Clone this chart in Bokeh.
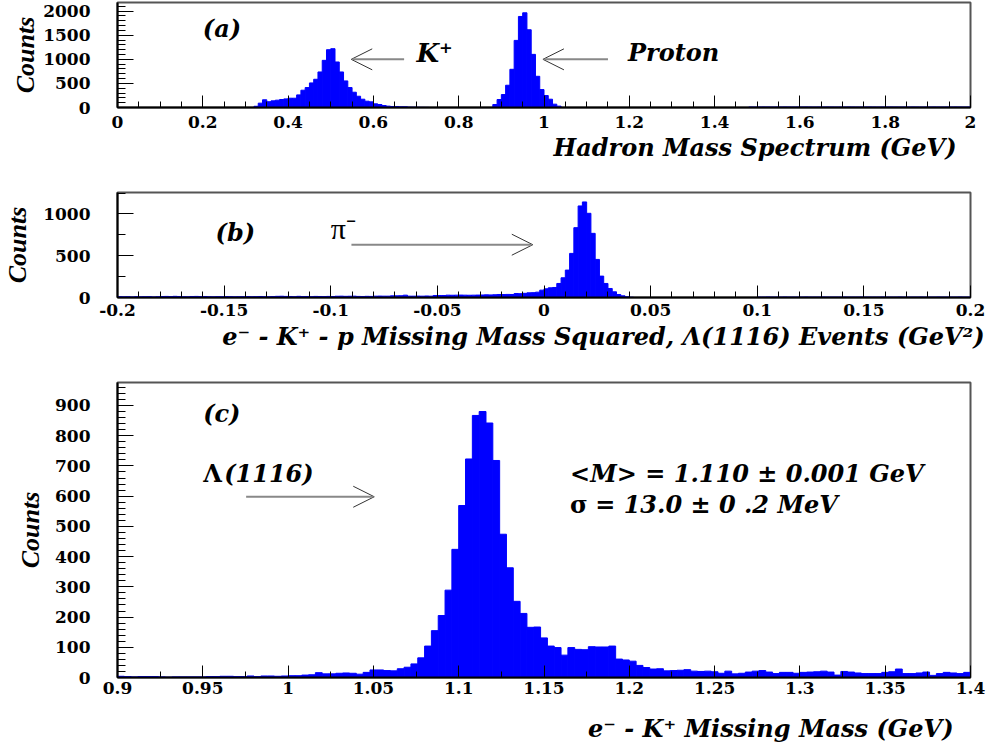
from bokeh.plotting import figure
from bokeh.layouts import column
from bokeh.models import (Range1d, SingleIntervalTicker, CustomJSTickFormatter, Label,
                          Arrow, OpenHead, Title, ColumnDataSource)
from bokeh.embed import file_html
from bokeh.resources import INLINE

# ---------------- data ----------------
# (a) hadron mass spectrum, bins of 0.01 GeV starting at 0
hadron_start = 0.0
hadron_width = 0.01
hadron_counts = [
    0, 0, 0, 0, 0, 0, 0, 0, 0, 0,
    0, 0, 0, 0, 0, 0, 0, 0, 0, 0,
    0, 0, 0, 0, 0, 0, 0, 0, 0, 0,
    0, 0, 25, 90, 160, 120, 138, 152, 166, 179,
    193, 193, 262, 359, 414, 510, 586, 738, 979, 1200,
    1221, 945, 738, 552, 414, 317, 234, 172, 131, 117,
    76, 62, 41, 28, 21, 21, 14, 14, 7, 6,
    4, 3, 2, 0, 0, 0, 0, 0, 0, 0,
    0, 0, 0, 0, 0, 0, 0, 0, 62, 166,
    269, 462, 793, 1393, 1890, 1966, 1614, 1103, 648, 372,
    248, 172, 69, 28, 0, 0, 0, 0, 0, 0,
    0, 0, 0, 0, 0, 0, 0, 0, 0, 0,
    0, 0, 0, 0, 0, 0, 0, 0, 0, 0,
    0, 0, 0, 0, 0, 0, 0, 0, 0, 0,
    0, 0, 0, 0, 0, 0, 0, 0, 10, 9,
    10, 11, 10, 9, 10, 10, 11, 10, 9, 10,
    10, 11, 10, 9, 10, 10, 11, 10, 9, 10,
    10, 11, 10, 9, 10, 10, 11, 10, 9, 10,
    10, 11, 10, 9, 10, 10, 11, 10, 9, 10,
    10, 11, 10, 9, 10, 10, 11, 10, 9, 10,
]

# (b) e- K+ p missing mass squared, bins of 0.002 GeV^2 starting at -0.2
mm2_start = -0.2
mm2_width = 0.002
mm2_counts = [
    10, 8, 9, 7, 10, 8, 9, 10, 7, 9,
    12, 13, 11, 14, 12, 9, 8, 12, 13, 11,
    12, 9, 8, 10, 9, 11, 10, 8, 9, 10,
    11, 9, 10, 12, 10, 9, 11, 14, 15, 13,
    12, 10, 14, 11, 12, 10, 13, 12, 11, 13,
    12, 15, 16, 14, 15, 16, 13, 12, 14, 13,
    16, 17, 16, 16, 20, 20, 21, 28, 16, 16,
    17, 16, 18, 16, 24, 24, 24, 28, 27, 28,
    29, 28, 27, 28, 29, 30, 32, 31, 33, 36,
    35, 37, 36, 48, 46, 50, 56, 58, 64, 88,
    104, 116, 120, 168, 236, 328, 528, 836, 1096, 1144,
    1008, 768, 456, 256, 168, 108, 68, 36, 20, 8,
    3, 0, 0, 0, 0, 0, 0, 0, 0, 0,
    0, 0, 0, 0, 0, 0, 0, 0, 0, 0,
    0, 0, 0, 0, 0, 0, 0, 0, 0, 0,
    5, 5, 6, 5, 5, 5, 6, 5, 5, 5,
    5, 6, 5, 5, 5, 6, 5, 5, 5, 5,
    6, 5, 5, 5, 6, 5, 5, 5, 5, 6,
    5, 5, 5, 6, 5, 5, 5, 5, 6, 5,
    5, 5, 6, 5, 5, 5, 5, 6, 5, 5,
]

# (c) e- K+ missing mass, bins of 0.004 GeV starting at 0.9
mm_start = 0.9
mm_width = 0.004
mm_counts = [
    4, 3, 2, 3, 3, 3, 2, 1, 2, 2,
    2, 2, 2, 3, 3, 4, 4, 3, 3, 5,
    3, 5, 5, 4, 5, 6, 6, 8, 9, 16,
    12, 12, 14, 15, 14, 11, 17, 25, 25, 23,
    22, 29, 34, 45, 65, 104, 155, 205, 289, 424,
    569, 723, 867, 880, 842, 718, 474, 363, 252, 212,
    166, 167, 131, 104, 99, 74, 99, 93, 92, 102,
    101, 101, 104, 61, 58, 54, 40, 33, 28, 29,
    22, 23, 24, 26, 21, 20, 21, 19, 14, 21,
    12, 14, 18, 21, 23, 18, 13, 17, 17, 14,
    17, 18, 19, 21, 18, 8, 20, 18, 15, 13,
    13, 13, 17, 19, 28, 13, 13, 15, 18, 7,
    13, 17, 15, 13, 17,
]

# axis texts
title_a = "Hadron Mass Spectrum (GeV)"
title_b = "e\u207b - K\u207a - p Missing Mass Squared, \u039b(1116) Events (GeV\u00b2)"
title_c = "e\u207b - K\u207a Missing Mass (GeV)"
ylabel = "Counts"
fit_mean = "<M> = 1.110 \u00b1 0.001 GeV"
fit_sigma_symbol = "\u03c3"
fit_sigma = "= 13.0 \u00b1 0 .2 MeV"

BLUE = "#0000ff"
SERIF = "DejaVu Serif"
TICKFMT = CustomJSTickFormatter(code="var v = Math.round(tick*10000)/10000; return v.toString();")
EPS = 1e-9


def make_source(start, width, counts):
    left, right, top = [], [], []
    for i, c in enumerate(counts):
        if c > 0:
            left.append(start + width * i)
            right.append(start + width * (i + 1))
            top.append(c)
    return ColumnDataSource(dict(left=left, right=right, top=top))


def make_panel(xr, yr, frame_h, top_border, bottom_border, xint, xminor, yint, yminor,
               x_standoff, y_label_standoff):
    p = figure(frame_width=853, frame_height=frame_h,
               x_range=Range1d(xr[0] - EPS, xr[1] + EPS), y_range=Range1d(*yr),
               min_border_left=114, min_border_right=19,
               min_border_top=top_border, min_border_bottom=bottom_border,
               output_backend="svg", toolbar_location=None)
    p.xgrid.visible = False
    p.ygrid.visible = False
    p.outline_line_color = "#555555"
    p.outline_line_width = 2
    p.background_fill_color = "white"
    p.border_fill_color = "white"

    p.xaxis.ticker = SingleIntervalTicker(interval=xint, num_minor_ticks=xminor)
    p.yaxis.ticker = SingleIntervalTicker(interval=yint, num_minor_ticks=yminor)
    p.xaxis.formatter = TICKFMT
    for ax in (p.xaxis, p.yaxis):
        ax.axis_line_width = 2
        ax.axis_line_color = "black"
        ax.major_tick_out = 0
        ax.minor_tick_out = 0
        ax.major_tick_line_color = "black"
        ax.minor_tick_line_color = "black"
        ax.major_label_text_font = SERIF
        ax.major_label_text_font_style = "bold"
        ax.major_label_text_font_size = "17px"
        ax.major_label_text_color = "black"
    p.xaxis.major_tick_in = 12
    p.xaxis.minor_tick_in = 6
    p.yaxis.major_tick_in = 16
    p.yaxis.minor_tick_in = 8
    p.xaxis.major_label_standoff = x_standoff
    p.yaxis.major_label_standoff = 27
    p.yaxis.axis_label = ylabel
    p.yaxis.axis_label_text_font = "Liberation Serif"
    p.yaxis.axis_label_text_font_style = "bold italic"
    p.yaxis.axis_label_text_font_size = "26px"
    p.yaxis.axis_label_text_color = "black"
    p.yaxis.axis_label_standoff = y_label_standoff
    return p


def add_title(p, title, title_offset, title_standoff):
    t = Title(text=title, align="right", offset=title_offset, standoff=title_standoff,
              text_font=SERIF, text_font_style="bold italic", text_font_size="24px",
              text_color="black")
    p.add_layout(t, "below")


def add_text(p, x, y, text, size="24px", style="bold italic", font=SERIF, align="left"):
    p.add_layout(Label(x=x, y=y, text=text, text_font=font, text_font_style=style,
                       text_font_size=size, text_color="black", text_baseline="alphabetic",
                       text_align=align))


def add_arrow(p, x0, y0, x1, y1):
    p.add_layout(Arrow(end=OpenHead(size=21, line_color="#333333", line_width=1),
                       x_start=x0, y_start=y0, x_end=x1, y_end=y1,
                       line_color="#888888", line_width=2))


def add_hist(p, start, width, counts):
    p.quad(left="left", right="right", bottom=0, top="top",
           source=make_source(start, width, counts),
           fill_color=BLUE, line_color=BLUE, line_width=1)


# ---------------- panel (a) ----------------
pa = make_panel((0, 2), (0, 2180), 105, 2, 75, 0.2, 4, 500, 5, 8, 0)
add_title(pa, title_a, 14, 0)
add_hist(pa, hadron_start, hadron_width, hadron_counts)
add_text(pa, 0.20, 1640, "(a)")
add_arrow(pa, 0.672, 1000, 0.548, 1000)
add_text(pa, 0.701, 1140, "K\u207a", size="26px")
add_arrow(pa, 1.150, 1000, 0.9975, 1000)
add_text(pa, 1.197, 1140, "Proton")

# ---------------- panel (b) ----------------
pb = make_panel((-0.2, 0.2), (0, 1257), 105, 10, 75, 0.05, 5, 500, 2, 6, 8)
add_title(pb, title_b, -14, 2)
add_hist(pb, mm2_start, mm2_width, mm2_counts)
add_text(pb, -0.154, 776, "(b)")
add_text(pb, -0.100, 830, "\u03c0\u207b", size="30px", style="normal", font="Liberation Serif")
add_arrow(pb, -0.0903, 632, -0.00525, 632)

# ---------------- panel (c) ----------------
pc = make_panel((0.9, 1.4), (0, 976), 295, 10, 69, 0.05, 2, 100, 5, 4, 7)
# an invisible spacer label pushes the axis title down a little
pc.xaxis.axis_label = " "
pc.xaxis.axis_label_text_font_size = "1px"
pc.xaxis.axis_label_standoff = 10
add_title(pc, title_c, 17, 2)
add_hist(pc, mm_start, mm_width, mm_counts)
add_text(pc, 0.9502, 875, "(c)")
add_text(pc, 0.9502, 674, "\u039b", style="bold")
add_text(pc, 0.9625, 674, "(1116)")
add_arrow(pc, 0.9754, 598, 1.0505, 598)
add_text(pc, 1.1653, 674, fit_mean)
add_text(pc, 1.1653, 572, fit_sigma_symbol, style="bold")
add_text(pc, 1.1800, 572, fit_sigma)

layout = column(pa, pb, pc, spacing=0)
open("out.html", "w").write(file_html(layout, INLINE))
